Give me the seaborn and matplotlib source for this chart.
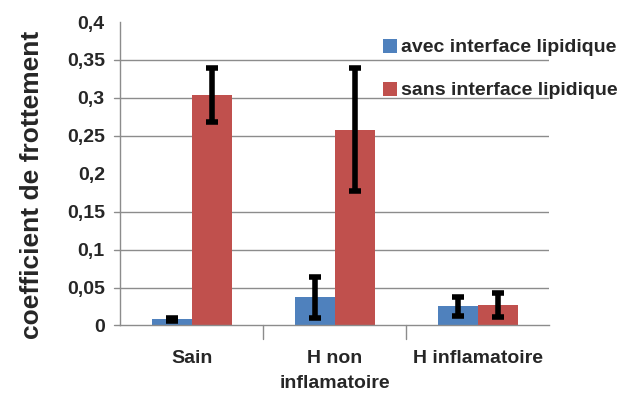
import matplotlib
matplotlib.use("Agg")
import matplotlib.pyplot as plt
import seaborn as sns
import pandas as pd

categories = ["Sain", "H non\ninflamatoire", "H inflamatoire"]
series = ["avec interface lipidique", "sans interface lipidique"]
avec_vals = [0.008, 0.037, 0.025]
avec_err = [0.002, 0.027, 0.013]
sans_vals = [0.304, 0.258, 0.027]
sans_err = [0.036, 0.081, 0.016]
y_ticks = [0, 0.05, 0.1, 0.15, 0.2, 0.25, 0.3, 0.35, 0.4]
y_tick_labels = ["0", "0,05", "0,1", "0,15", "0,2", "0,25", "0,3", "0,35", "0,4"]
grid_levels = [0.05, 0.1, 0.15, 0.25, 0.3, 0.35]

colors = ["#4F81BD", "#C0504D"]

df = pd.DataFrame({
    "categorie": categories * 2,
    "serie": [series[0]] * 3 + [series[1]] * 3,
    "valeur": avec_vals + sans_vals,
    "erreur": avec_err + sans_err,
})

sns.set_style("white")
plt.rcParams["font.family"] = ["Liberation Sans", "DejaVu Sans"]
plt.rcParams["font.weight"] = "bold"

fig = plt.figure(figsize=(6.22, 3.94), dpi=100)
ax = fig.add_axes([0.193, 0.174, 0.690, 0.770])

for lvl in grid_levels:
    ax.axhline(lvl, color="#8C8C8C", lw=1.0, zorder=0)

sns.barplot(data=df, x="categorie", y="valeur", hue="serie",
            order=categories, hue_order=series, palette=colors,
            width=0.56, gap=0, errorbar=None, saturation=1,
            linewidth=0, ax=ax, zorder=2)

# error bars placed on the bar centres computed by seaborn
bars = [p for p in ax.patches if p.get_width() > 0][:6]
for i, bar in enumerate(bars):
    x = bar.get_x() + bar.get_width() / 2
    y = df["valeur"].iloc[i]
    e = df["erreur"].iloc[i]
    ax.errorbar(x, y, yerr=e, fmt="none", ecolor="black", elinewidth=4,
                capsize=4, capthick=4, zorder=3)

ax.set_ylim(0, 0.4)
ax.set_xlim(-0.5, 2.5)
ax.set_yticks(y_ticks)
ax.set_yticklabels(y_tick_labels, fontsize=14, fontweight="bold")
ax.tick_params(axis="y", length=0, pad=11)
ax.tick_params(axis="x", length=0, pad=18)
ax.set_xticks(range(len(categories)))
ax.set_xticklabels(categories, fontsize=14, fontweight="bold",
                   linespacing=1.55, va="top")

# small y tick marks at the gridline levels, category separators on x
for lvl in [0] + grid_levels:
    ax.plot([-0.54, -0.5], [lvl, lvl], color="#8C8C8C", lw=1, clip_on=False, zorder=1)
for xs in [0.5, 1.5]:
    ax.plot([xs, xs], [0, -0.018], color="#8C8C8C", lw=1, clip_on=False, zorder=1)

for side in ["top", "right"]:
    ax.spines[side].set_visible(False)
ax.spines["left"].set_color("#8C8C8C")
ax.spines["bottom"].set_color("#8C8C8C")
ax.spines["left"].set_linewidth(1)
ax.spines["bottom"].set_linewidth(1)

ax.set_xlabel("")
ax.set_ylabel("")
fig.text(32 / 622, 1 - 185 / 394, "coefficient de frottement", rotation=90,
         fontsize=19, fontweight="bold", ha="center", va="center")

leg = ax.legend(loc="upper left", bbox_to_anchor=(0.613, 0.945), frameon=False,
                fontsize=14, handlelength=0.72, handleheight=0.72,
                handletextpad=0.2, labelspacing=1.3, borderaxespad=0,
                borderpad=0)
for t in leg.get_texts():
    t.set_fontweight("bold")

fig.savefig("out.png", dpi=100)
